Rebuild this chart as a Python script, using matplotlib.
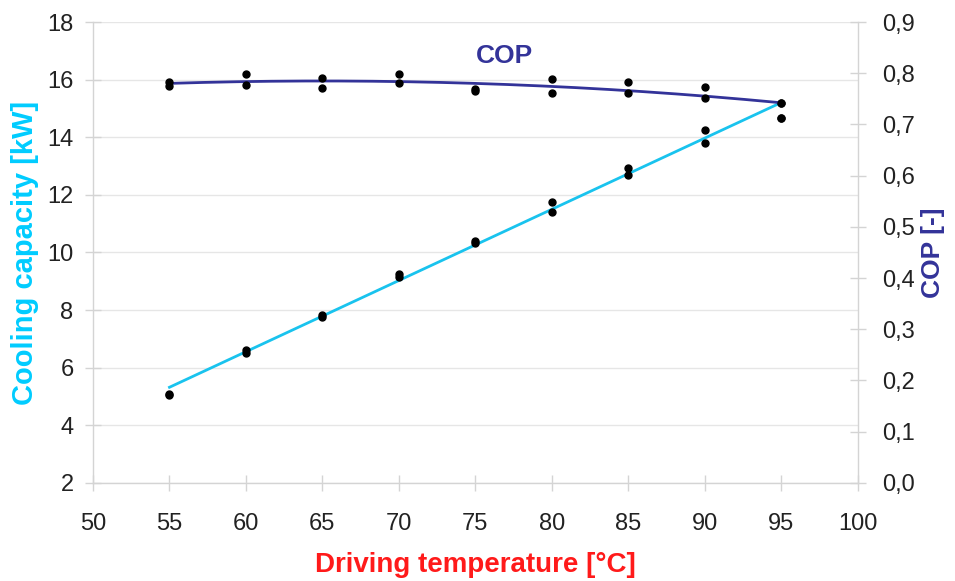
import numpy as np
import matplotlib
matplotlib.use("Agg")
import matplotlib.pyplot as plt

plt.rcParams['font.family'] = ['Liberation Sans', 'DejaVu Sans']

# measured points (driving temperature, °C)
tempPts = [55, 55, 60, 60, 65, 65, 70, 70, 75, 75, 80, 80, 85, 85, 90, 90, 95, 95]
capPts = [5.08, 5.05, 6.51, 6.60, 7.76, 7.82, 9.15, 9.25, 10.33, 10.40,
          11.40, 11.75, 12.69, 12.93, 13.80, 14.25, 15.19, 14.67]
copPts = [0.783, 0.775, 0.798, 0.777, 0.791, 0.771, 0.798, 0.781, 0.770, 0.765,
          0.789, 0.761, 0.783, 0.761, 0.773, 0.752, 0.742, 0.713]

# trend lines
trendTemp = [55, 60, 65, 70, 75, 80, 85, 90, 95]
capTrend = [5.30, 6.55, 7.80, 9.05, 10.25, 11.50, 12.75, 13.95, 15.20]
copTrend = [0.779, 0.785, 0.786, 0.784, 0.779, 0.774, 0.765, 0.757, 0.742]

xTicks = [50, 55, 60, 65, 70, 75, 80, 85, 90, 95, 100]
capTicks = [2, 4, 6, 8, 10, 12, 14, 16, 18]
copTicks = [0.0, 0.1, 0.2, 0.3, 0.4, 0.5, 0.6, 0.7, 0.8, 0.9]

CYAN = "#19c3ee"
NAVY = "#333399"
GRAY = "#d4d4d4"

fig = plt.figure(figsize=(9.55, 5.81), dpi=100)
ax = fig.add_axes([0.0974, 0.169, 0.8006, 0.793])
ax2 = ax.twinx()

ax.set_xlim(50, 100)
ax.set_ylim(2, 18)
ax2.set_ylim(0.0, 0.9)

ax.set_xticks(xTicks)
ax.set_yticks(capTicks)
ax2.set_yticks(copTicks)
ax2.set_yticklabels([f"{v:.1f}".replace(".", ",") for v in copTicks])

ax.yaxis.grid(True, color="#e6e6e6", linewidth=1.0)
ax.set_axisbelow(True)

for a in (ax, ax2):
    for s in a.spines.values():
        s.set_visible(False)
    a.tick_params(direction="inout", length=12, width=1, color=GRAY,
                  labelsize=17, labelcolor="#222222", pad=8)
ax.spines["left"].set_visible(True)
ax.spines["bottom"].set_visible(True)
ax2.spines["right"].set_visible(True)
for s in (ax.spines["left"], ax.spines["bottom"], ax2.spines["right"]):
    s.set_color(GRAY)
    s.set_linewidth(1.0)
ax.tick_params(axis="x", pad=16)
ax2.tick_params(axis="y", pad=12)

# trend curves
xs = np.linspace(55, 95, 200)
capFit = np.polyfit(trendTemp, capTrend, 1)
copFit = np.polyfit(trendTemp, copTrend, 2)
ax.plot(xs, np.polyval(capFit, xs), color=CYAN, linewidth=2.0, zorder=2)
ax2.plot(xs, np.polyval(copFit, xs), color=NAVY, linewidth=2.0, zorder=2)

ax.plot(tempPts, capPts, "o", color="black", markersize=5, zorder=3)
ax2.plot(tempPts, copPts, "o", color="black", markersize=5, zorder=3)

ax.text(76.9, 16.82, "COP", color=NAVY, fontsize=19, fontweight="bold",
        ha="center", va="center")

ax.set_xlabel("Driving temperature [°C]", color="#ff1a1a", fontsize=20,
              fontweight="bold", labelpad=12)
ax.set_ylabel("Cooling capacity [kW]", color="#00ccff", fontsize=21,
              fontweight="bold", labelpad=6)
ax2.set_ylabel("COP [-]", color=NAVY, fontsize=19, fontweight="bold", labelpad=4)

fig.savefig("out.png", dpi=100)
